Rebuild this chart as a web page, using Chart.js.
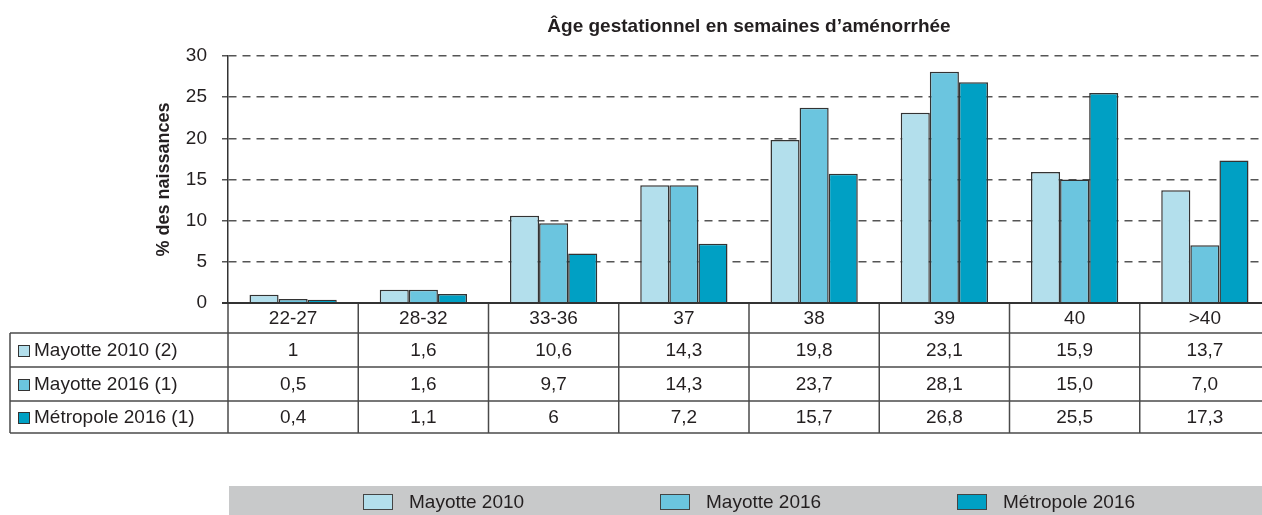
<!DOCTYPE html>
<html>
<head>
<meta charset="utf-8">
<script src="https://cdn.jsdelivr.net/npm/chart.js@4"></script>
<style>
  html, body { margin: 0; padding: 0; background: #fff; overflow: hidden; }
  #wrap { width: 1270px; height: 515px; }
</style>
</head>
<body>
<div id="wrap"><canvas id="chart" width="1270" height="515"></canvas></div>
<script>
// Gestational age classes (weeks of amenorrhea)
const categories = ['22-27', '28-32', '33-36', '37', '38', '39', '40', '>40'];

// % of births per series
const mayotte2010 = [1, 1.6, 10.6, 14.3, 19.8, 23.1, 15.9, 13.7];
const mayotte2016 = [0.5, 1.6, 9.7, 14.3, 23.7, 28.1, 15.0, 7.0];
const metropole2016 = [0.4, 1.1, 6, 7.2, 15.7, 26.8, 25.5, 17.3];

const seriesNames = ['Mayotte 2010', 'Mayotte 2016', 'Métropole 2016'];
const seriesNotes = ['(2)', '(1)', '(1)'];
const seriesDecimals = [null, 1, null]; // 2016 Mayotte row is printed with one decimal

const yTicks = [0, 5, 10, 15, 20, 25, 30];

const colors = ['#b3dfec', '#6bc5df', '#00a0c4'];
const textColor = '#231f20';
const fontFamily = "'Liberation Sans', Arial, sans-serif";

function fmt(v, dec) {
  const s = dec == null ? String(v) : v.toFixed(dec);
  return s.replace('.', ',');
}

// Data table under the plot, aligned on the category scale
const tablePlugin = {
  id: 'dataTable',
  afterDraw(chart) {
    const ctx = chart.ctx;
    const xs = chart.scales.x;
    const area = chart.chartArea;
    const half = (xs.getPixelForValue(1) - xs.getPixelForValue(0)) / 2;
    const tableLeft = 10;
    const rowH = [30, 34, 34, 32];
    const rowTop = [area.bottom];
    rowH.forEach((h, i) => rowTop.push(rowTop[i] + h));
    const bottom = rowTop[rowTop.length - 1];

    ctx.save();
    ctx.strokeStyle = '#4a4a4a';
    ctx.lineWidth = 1.5;

    // horizontal rules
    for (let i = 1; i < rowTop.length; i++) {
      ctx.beginPath();
      ctx.moveTo(tableLeft, rowTop[i]);
      ctx.lineTo(area.right, rowTop[i]);
      ctx.stroke();
    }
    // left edge of the label column
    ctx.beginPath();
    ctx.moveTo(tableLeft, rowTop[1]);
    ctx.lineTo(tableLeft, bottom);
    ctx.stroke();
    // column separators
    for (let i = 0; i <= categories.length; i++) {
      const xb = i === 0 ? area.left : xs.getPixelForValue(i - 1) + half;
      ctx.beginPath();
      ctx.moveTo(xb, area.bottom);
      ctx.lineTo(xb, bottom);
      ctx.stroke();
    }
    // zero axis line
    ctx.strokeStyle = '#333';
    ctx.lineWidth = 2;
    ctx.beginPath();
    ctx.moveTo(area.left - 6, area.bottom);
    ctx.lineTo(area.right, area.bottom);
    ctx.stroke();

    ctx.font = '19px ' + fontFamily;
    ctx.fillStyle = textColor;
    ctx.textBaseline = 'middle';
    ctx.textAlign = 'center';
    categories.forEach((c, i) => {
      ctx.fillText(c, xs.getPixelForValue(i), rowTop[0] + rowH[0] / 2 + 1);
    });

    chart.data.datasets.forEach((ds, r) => {
      const yc = rowTop[r + 1] + rowH[r + 1] / 2 + 1;
      ctx.fillStyle = ds.backgroundColor;
      ctx.fillRect(18, yc - 6, 12, 12);
      ctx.strokeStyle = '#333';
      ctx.lineWidth = 1;
      ctx.strokeRect(18.5, yc - 5.5, 11, 11);
      ctx.fillStyle = textColor;
      ctx.textAlign = 'left';
      ctx.fillText(ds.label + ' ' + seriesNotes[r], 34, yc);
      ctx.textAlign = 'center';
      ds.data.forEach((v, i) => {
        ctx.fillText(fmt(v, seriesDecimals[r]), xs.getPixelForValue(i), yc);
      });
    });
    ctx.restore();
  }
};

// Grey legend band at the bottom
const legendPlugin = {
  id: 'bandLegend',
  afterDraw(chart) {
    const ctx = chart.ctx;
    ctx.save();
    ctx.fillStyle = '#c8c9ca';
    ctx.fillRect(229, 486, chart.width - 229, 29);
    ctx.font = '19px ' + fontFamily;
    ctx.textBaseline = 'middle';
    ctx.textAlign = 'left';
    chart.data.datasets.forEach((ds, i) => {
      const x0 = 363 + i * 297;
      ctx.fillStyle = ds.backgroundColor;
      ctx.fillRect(x0, 494, 30, 16);
      ctx.strokeStyle = '#444';
      ctx.lineWidth = 1;
      ctx.strokeRect(x0 + 0.5, 494.5, 29, 15);
      ctx.fillStyle = textColor;
      ctx.fillText(ds.label, x0 + 46, 503);
    });
    ctx.restore();
  }
};

const seriesData = [mayotte2010, mayotte2016, metropole2016];

new Chart(document.getElementById('chart'), {
  type: 'bar',
  data: {
    labels: categories,
    datasets: seriesData.map((d, i) => ({
      label: seriesNames[i],
      data: d,
      backgroundColor: colors[i],
      borderColor: '#333',
      borderWidth: 1.5,
      categoryPercentage: 0.67,
      barPercentage: 1.0
    }))
  },
  options: {
    responsive: false,
    animation: false,
    devicePixelRatio: 1,
    layout: { padding: { left: 0, right: 0, top: 0, bottom: 212 } },
    plugins: {
      legend: { display: false },
      tooltip: { enabled: false }
    },
    scales: {
      x: {
        position: 'top',
        ticks: { display: false },
        grid: { display: false },
        border: { display: false },
        title: {
          display: true,
          text: 'Âge gestationnel en semaines d’aménorrhée',
          color: textColor,
          font: { family: fontFamily, size: 19, weight: 'bold' },
          padding: { top: 15, bottom: 0 }
        },
        afterFit(scale) { scale.height = 56; }
      },
      y: {
        min: 0,
        max: 30,
        afterBuildTicks(scale) { scale.ticks = yTicks.map(v => ({ value: v })); },
        ticks: {
          color: textColor,
          font: { family: fontFamily, size: 19 },
          padding: 15
        },
        grid: {
          color: c => c.tick && c.tick.value === 0 ? 'rgba(0,0,0,0)' : '#555',
          lineWidth: 1.5,
          tickLength: 6,
          tickColor: '#555'
        },
        border: { display: true, color: '#333', width: 1.5, dash: [8, 6] },
        title: {
          display: true,
          text: '% des naissances',
          color: textColor,
          font: { family: fontFamily, size: 18, weight: 'bold' },
          padding: { top: 153, bottom: 0 }
        },
        afterFit(scale) { scale.width = 228; }
      }
    }
  },
  plugins: [tablePlugin, legendPlugin]
});
</script>
</body>
</html>
